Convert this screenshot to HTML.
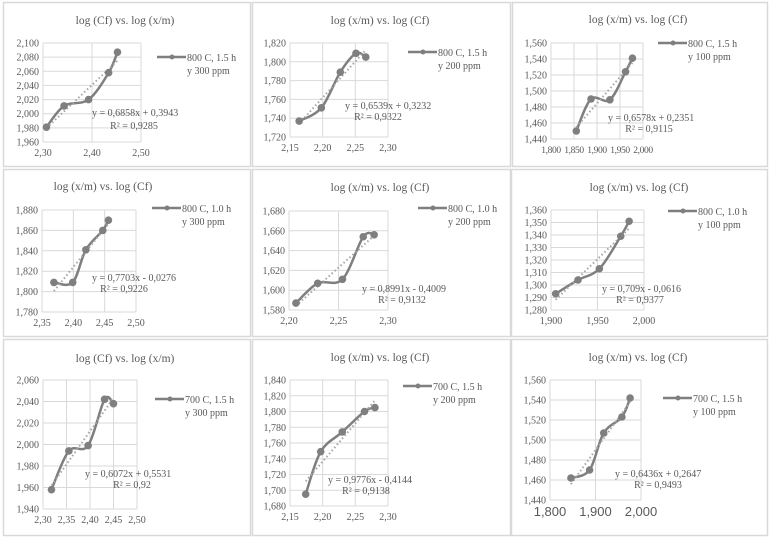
<!DOCTYPE html>
<html><head><meta charset="utf-8"><style>
html,body{margin:0;padding:0;background:#fff;}
svg{display:block;font-family:"Liberation Serif",serif;}
</style></head><body>
<svg id="chart" width="770" height="537" viewBox="0 0 770 537" xmlns="http://www.w3.org/2000/svg"></svg>
<script>
// ---- data ----
const p1X=[2.307,2.343,2.393,2.434,2.452]; const p1Y=[1.981,2.011,2.020,2.058,2.087];
const p2X=[2.164,2.198,2.227,2.251,2.266]; const p2Y=[1.737,1.751,1.789,1.809,1.805];
const p3X=[1.855,1.887,1.928,1.962,1.977]; const p3Y=[1.450,1.490,1.489,1.524,1.541];
const p4X=[2.369,2.399,2.420,2.447,2.456]; const p4Y=[1.809,1.809,1.841,1.860,1.870];
const p5X=[2.207,2.229,2.254,2.275,2.286]; const p5Y=[1.587,1.607,1.611,1.654,1.656];
const p6X=[1.905,1.929,1.952,1.975,1.984]; const p6Y=[1.293,1.304,1.313,1.339,1.351];
const p7X=[2.318,2.355,2.396,2.431,2.450]; const p7Y=[1.958,1.994,1.999,2.042,2.038];
const p8X=[2.174,2.197,2.230,2.264,2.280]; const p8Y=[1.695,1.749,1.774,1.800,1.805];
const p9X=[1.846,1.887,1.918,1.958,1.976]; const p9Y=[1.462,1.470,1.507,1.523,1.542];
const titles=["log (Cf) vs. log (x/m)","log (x/m) vs. log (Cf)","log (x/m) vs. log (Cf)","log (x/m) vs. log (Cf)","log (x/m) vs. log (Cf)","log (x/m) vs. log (Cf)","log (Cf) vs. log (x/m)","log (x/m) vs. log (Cf)","log (x/m) vs. log (Cf)"];
const legend1=["800 C, 1.5 h","800 C, 1.5 h","800 C, 1.5 h","800 C, 1.0 h","800 C, 1.0 h","800 C, 1.0 h","700 C, 1.5 h","700 C, 1.5 h","700 C, 1.5 h"];
const legend2=["y 300 ppm","y 200 ppm","y 100 ppm","y 300 ppm","y 200 ppm","y 100 ppm","y 300 ppm","y 200 ppm","y 100 ppm"];
const eqs=["y = 0,6858x + 0,3943","y = 0,6539x + 0,3232","y = 0,6578x + 0,2351","y = 0,7703x - 0,0276","y = 0,8991x - 0,4009","y = 0,709x - 0,0616","y = 0,6072x + 0,5531","y = 0,9776x - 0,4144","y = 0,6436x + 0,2647"];
const r2s=["R² = 0,9285","R² = 0,9322","R² = 0,9115","R² = 0,9226","R² = 0,9132","R² = 0,9377","R² = 0,92","R² = 0,9138","R² = 0,9493"];
const xTicks=[[2.30,2.40,2.50],[2.15,2.20,2.25,2.30],[1.80,1.85,1.90,1.95,2.00],[2.35,2.40,2.45,2.50],[2.20,2.25,2.30],[1.90,1.95,2.00],[2.30,2.35,2.40,2.45,2.50],[2.15,2.20,2.25,2.30],[1.80,1.90,2.00]];
const yRange=[[1.96,2.10,0.02],[1.72,1.82,0.02],[1.44,1.56,0.02],[1.78,1.88,0.02],[1.58,1.68,0.02],[1.28,1.36,0.01],[1.94,2.06,0.02],[1.68,1.84,0.02],[1.44,1.56,0.02]];
const xDec=[2,2,3,2,2,3,2,2,3];
const allX=[p1X,p2X,p3X,p4X,p5X,p6X,p7X,p8X,p9X];
const allY=[p1Y,p2Y,p3Y,p4Y,p5Y,p6Y,p7Y,p8Y,p9Y];
// ---- layout ----
const L=[
 {b:[3,2,247,164],t:[125,24],p:[43,43,141,142],lg:[157,57],eq:[92,116],r2:[134,129]},
 {b:[252,2,258,164],t:[380,24],p:[290,43,388,137],lg:[408,52],eq:[345,109],r2:[378,120]},
 {b:[512,2,255,164],t:[638,23],p:[551,43,643,139],lg:[658,43],eq:[608,121],r2:[649,132]},
 {b:[3,169,247,167],t:[103,190],p:[42,210,136,312],lg:[152,208],eq:[92,281],r2:[124,292]},
 {b:[252,169,258,167],t:[380,191],p:[289,211,388,310],lg:[418,208],eq:[362,292],r2:[402,303]},
 {b:[511,169,256,167],t:[639,191],p:[551,210,644,310],lg:[668,211],eq:[602,292],r2:[640,303]},
 {b:[3,339,247,196],t:[125,362],p:[43,380,137,509],lg:[155,399],eq:[85,477],r2:[132,488]},
 {b:[252,339,258,196],t:[380,361],p:[290,380,388,506],lg:[403,386],eq:[328,483],r2:[366,494]},
 {b:[511,339,256,196],t:[638,361],p:[550,380,641,500],lg:[663,398],eq:[615,477],r2:[658,488]}
];
const NS="http://www.w3.org/2000/svg";
const svg=document.getElementById('chart');
function mk(tag,attrs,parent){const e=document.createElementNS(NS,tag);for(const k in attrs)e.setAttribute(k,attrs[k]);(parent||svg).appendChild(e);return e;}
function smooth(pts){let d=`M${pts[0][0]},${pts[0][1]}`;for(let i=0;i<pts.length-1;i++){const p0=pts[i-1]||pts[i],p1=pts[i],p2=pts[i+1],p3=pts[i+2]||p2;const t=1/6;d+=` C${p1[0]+(p2[0]-p0[0])*t},${p1[1]+(p2[1]-p0[1])*t} ${p2[0]-(p3[0]-p1[0])*t},${p2[1]-(p3[1]-p1[1])*t} ${p2[0]},${p2[1]}`;}return d;}
const FS=10;
for(let i=0;i<9;i++){
 const g=mk('g',{});
 
 
 const l=L[i],[x0,y0,x1,y1]=l.p;const xt=xTicks[i];const [ymin,ymax,ystep]=yRange[i];
 const xmin=xt[0],xmax=xt[xt.length-1];
 const sx=v=>x0+(v-xmin)/(xmax-xmin)*(x1-x0);
 const sy=v=>y1-(v-ymin)/(ymax-ymin)*(y1-y0);
 const box=mk('rect',{x:l.b[0]+.5,y:l.b[1]+.5,width:l.b[2],height:l.b[3],fill:'#fff',stroke:'#d9d9d9','stroke-width':1.5},g);
 
 
 const tt=mk('text',{x:l.t[0],y:l.t[1],'text-anchor':'middle','font-size':11.5,fill:'#595959'},g);tt.textContent=titles[i];
 
 
 const ny=Math.round((ymax-ymin)/ystep);
 for(let k=0;k<=ny;k++){const v=ymin+k*ystep,y=sy(v);
  const gl=mk('line',{x1:x0,x2:x1,y1:y,y2:y,stroke:'#d9d9d9','stroke-width':1},g);
  
  
  const tl=mk('text',{x:x0-4,y:y+3.5,'text-anchor':'end','font-size':FS,fill:'#595959'},g);tl.textContent=v.toFixed(3).replace('.',',');
  
  
 }
 xt.forEach(v=>{const x=sx(v);
  const gl=mk('line',{x1:x,x2:x,y1:y0,y2:y1,stroke:'#d9d9d9','stroke-width':1},g);
  
  
  const big=(i===8), tight=(i===2);
  const attrs={x:x,y:y1+(big?16:14),'text-anchor':'middle','font-size':big?13:(tight?9.5:FS),fill:'#595959','font-family':big?'"Liberation Sans",sans-serif':'"Liberation Serif",serif'};
  if(tight)attrs['letter-spacing']='-0.4';
  const tl=mk('text',attrs,g);tl.textContent=v.toFixed(xDec[i]).replace('.',',');
  
  
 });
 const X=allX[i],Y=allY[i],n=X.length;
 let mx=0,my=0;for(let k=0;k<n;k++){mx+=X[k];my+=Y[k];}mx/=n;my/=n;
 let sxy=0,sxx=0;for(let k=0;k<n;k++){sxy+=(X[k]-mx)*(Y[k]-my);sxx+=(X[k]-mx)*(X[k]-mx);}
 const m=sxy/sxx,b=my-m*mx;
 const pts=X.map((v,k)=>[sx(v),sy(Y[k])]);
 const ser=mk('path',{d:smooth(pts),fill:'none',stroke:'#7f7f7f','stroke-width':2.5,'stroke-linejoin':'round'},g);
 
 
 const tr=mk('line',{x1:sx(X[0]),y1:sy(m*X[0]+b),x2:sx(X[n-1]),y2:sy(m*X[n-1]+b),stroke:'#a6a6a6','stroke-width':2,'stroke-dasharray':'1.5,2.5'},g);
 
 
 pts.forEach(p=>{const c=mk('circle',{cx:p[0],cy:p[1],r:3.8,fill:'#7f7f7f'},g);
  
  });
 const [lx,ly]=l.lg;
 const lgl=mk('line',{x1:lx,x2:lx+29,y1:ly,y2:ly,stroke:'#7f7f7f','stroke-width':2.5},g);
 
 
 const lgc=mk('circle',{cx:lx+15,cy:ly,r:2.5,fill:'#7f7f7f'},g);
 
 
 const t1=mk('text',{x:lx+30,y:ly+4,'font-size':FS,fill:'#595959'},g);t1.textContent=legend1[i];
 
 
 const t2=mk('text',{x:lx+30,y:ly+17,'font-size':FS,fill:'#595959'},g);t2.textContent=legend2[i];
 
 
 const e1=mk('text',{x:l.eq[0],y:l.eq[1],'font-size':FS,fill:'#595959'},g);e1.textContent=eqs[i];
 
 
 const e2=mk('text',{x:l.r2[0],y:l.r2[1],'text-anchor':'middle','font-size':FS,fill:'#595959'},g);e2.textContent=r2s[i];
 
 
}
</script>
</body></html>
